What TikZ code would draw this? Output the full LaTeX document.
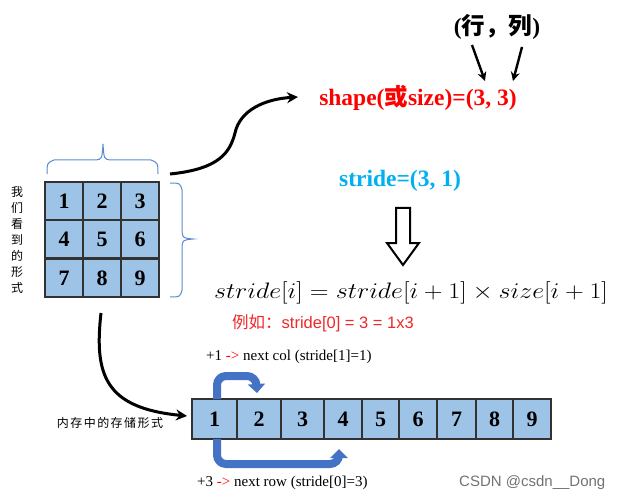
\documentclass[tikz,border=0pt]{standalone}
\usepackage{fontspec}
\usepackage{graphicx}
\setmainfont{Liberation Serif}
\newfontfamily\cjk{Noto Sans CJK SC}
\newfontfamily\wmsans{Liberation Sans}
\usetikzlibrary{arrows.meta}
\definecolor{cellblue}{RGB}{157,195,230}
\definecolor{bracec}{RGB}{91,139,206}
\definecolor{arrblue}{RGB}{68,114,196}
\definecolor{strcyan}{RGB}{0,176,240}
\definecolor{myred}{RGB}{255,0,0}
\definecolor{exred}{RGB}{240,40,40}
\definecolor{cellline}{RGB}{50,50,50}
\begin{document}
\begin{tikzpicture}[x=1pt,y=-1pt,
  gcell/.style={draw=cellline, fill=cellblue, line width=1.1pt, minimum width=38pt, minimum height=38pt, inner sep=0pt, font=\fontsize{22}{24}\selectfont\bfseries},
  acell/.style={draw=cellline, fill=cellblue, line width=1.1pt, minimum height=40pt, inner sep=0pt, font=\fontsize{22}{24}\selectfont\bfseries},
  bracestyle/.style={draw=bracec, line width=1pt},
  blackarrow/.style={draw=black, line width=3pt, -{Stealth[length=11pt,width=11pt]}},
  thinarrow/.style={draw=black, line width=2.4pt, -{Stealth[length=9pt,width=9pt]}},
  bluearrow/.style={draw=arrblue, line width=8pt, rounded corners=9pt, -{Triangle[length=9pt,width=17pt]}},
  cjktext/.style={font=\cjk\fontsize{12}{13}\selectfont, inner sep=0pt},
  note/.style={font=\fontsize{15}{17}\selectfont, inner sep=0pt},
  big/.style={inner sep=0pt, font=\fontsize{23.5}{26}\selectfont\bfseries},
]
\useasboundingbox (0,0) rectangle (619,500);
\fill[white] (0,0) rectangle (619,500);

% 3x3 grid
\foreach \r/\y in {0/201,1/239,2/278}{
  \foreach \c/\x in {0/64,1/102,2/140}{
    \pgfmathtruncatemacro{\n}{3*\r+\c+1}
    \node[gcell] (g\n) at (\x,\y) {\n};
  }
}

% top brace
\draw[bracestyle] (47,174) .. controls (47,163) .. (54,160) -- (96,160)
  .. controls (102,159) .. (103,144) .. controls (104,159) .. (110,160)
  -- (151,160) .. controls (158,163) .. (158,174);
% right brace
\draw[bracestyle] (170,183) .. controls (180,183) .. (182,190) -- (182,232)
  .. controls (183,238) .. (193,239) .. controls (183,240) .. (182,246)
  -- (182,290) .. controls (180,297) .. (170,297);

% left vertical text
\node[cjktext] (vt) at (17,240) {\shortstack{我\\[2pt]们\\[2pt]看\\[2pt]到\\[2pt]的\\[2pt]形\\[2pt]式}};

% shape text
\node[big, text=myred] (shape) at (418,98) {shape({\cjk 或}size)=(3, 3)};
\node[big] (rc) at (497,27) {({\cjk 行，列})};
\coordinate (rowt) at (472,45);
\coordinate (rowh) at (485,81);
\coordinate (colt) at (522,47);
\coordinate (colh) at (513,81);
\draw[thinarrow] (rowt) -- (rowh);
\draw[thinarrow] (colt) -- (colh);

% curved arrow to shape
\coordinate (c1s) at (170,174);
\coordinate (c1m) at (235,133);
\coordinate (c1e) at (298,97);
\draw[blackarrow] (c1s) .. controls (220,169) and (230,152) .. (c1m)
  .. controls (240,110) and (265,99) .. (c1e);

% stride
\node[big, text=strcyan] (stride) at (400,181) {stride=(3, 1)};

% hollow arrow
\draw[line width=2pt, fill=white] (396,208) -- (410,208) -- (410,243) -- (419,243)
  -- (403,265) -- (387,243) -- (396,243) -- cycle;

% formula
\node[inner sep=0pt, font=\fontsize{24}{28}\selectfont] (formula) at (411,293)
  {\scalebox{1.045}[0.9]{$stride[i] = stride[i+1] \times size[i+1]$}};
\node[inner sep=0pt, text=exred, font=\wmsans\fontsize{16.5}{18}\selectfont] (ex) at (323,323)
  {{\cjk 例如：}stride[0] = 3 = 1x3};

% array
\foreach \i/\a/\b in {1/192/237,2/237/281,3/281/324,4/324/362,5/362/399,6/399/437,7/437/476,8/476/513,9/513/551}{
  \pgfmathsetmacro{\w}{\b-\a}
  \node[acell, minimum width=\w pt] (a\i) at ({(\a+\b)/2},419) {\i};
}

% curved arrow to array
\coordinate (c2s) at (101,313);
\coordinate (c2e) at (187,416);
\draw[blackarrow] (c2s) .. controls (94,375) and (105,408) .. (c2e);
\node[cjktext, font=\cjk\fontsize{12}{13}\selectfont\addfontfeature{LetterSpace=12}] (mem) at (110,423) {内存中的存储形式};

% blue arrows
\coordinate (b1s) at (217,399);
\coordinate (b1e) at (257,393);
\draw[bluearrow] (b1s) -- (217,376) -- (256,376) -- (b1e);
\coordinate (b2s) at (217,439);
\coordinate (b2e) at (339,449);
\draw[bluearrow] (b2s) -- (217,464) -- (339,464) -- (b2e);

% notes
\node[note, anchor=west] (n1) at (206,357) {+1 \textcolor{myred}{->} next col (stride[1]=1)};
\node[note, anchor=west] (n2) at (197,483) {+3 \textcolor{myred}{->} next row (stride[0]=3)};

% watermark
\node[inner sep=0pt, anchor=west, text=black!55, font=\wmsans\fontsize{15}{17}\selectfont] (wm) at (459,483) {CSDN @csdn\_\_Dong};
\end{tikzpicture}
\end{document}
